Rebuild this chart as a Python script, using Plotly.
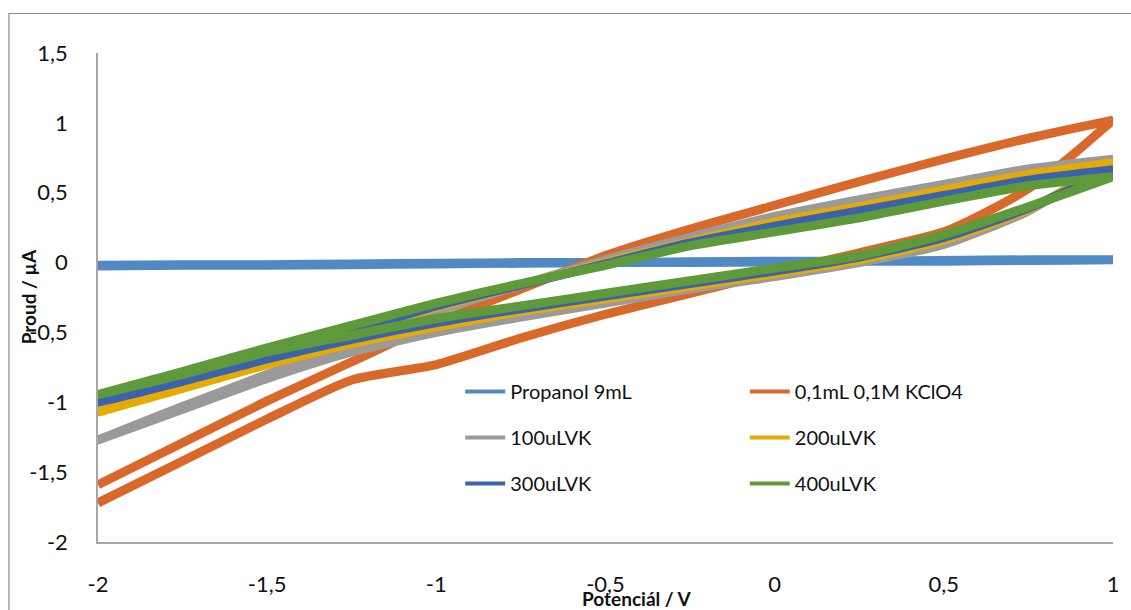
import plotly.graph_objects as go

# Potential nodes (V) shared by the sweeps
POTENTIAL = [-2.0, -1.75, -1.5, -1.25, -1.0, -0.75, -0.5, -0.25, 0.0, 0.25, 0.5, 0.75, 1.0]
POTENTIAL_KCLO4_FWD = [-2.0, -1.75, -1.5, -1.25, -1.0, -0.75, -0.5, -0.25, 0.0, 0.25, 0.5, 0.625, 0.75, 0.875, 1.0]

SERIES_NAMES = ["Propanol 9mL", "0,1mL 0,1M KClO4", "100uLVK", "200uLVK", "300uLVK", "400uLVK"]
SERIES_COLORS = ["#5089c4", "#d9692b", "#9a9a9a", "#e6ab02", "#3b63ad", "#5e9a3a"]

# Current (uA): forward sweep (-2 -> 1 V) and reverse sweep (1 -> -2 V)
PROPANOL_FWD = [-0.025, -0.02, -0.02, -0.015, -0.01, -0.005, 0.0, 0.0, 0.005, 0.01, 0.01, 0.015, 0.02]
PROPANOL_REV = [-0.02, -0.015, -0.015, -0.01, -0.005, 0.0, 0.0, 0.005, 0.01, 0.01, 0.015, 0.02, 0.02]

KCLO4_FWD = [-1.72, -1.42, -1.12, -0.84, -0.73, -0.54, -0.37, -0.22, -0.07, 0.07, 0.22, 0.36, 0.53, 0.76, 1.02]
KCLO4_REV = [-1.59, -1.29, -0.99, -0.71, -0.43, -0.19, 0.05, 0.24, 0.41, 0.58, 0.74, 0.89, 1.02]

VK100_FWD = [-1.27, -1.05, -0.83, -0.64, -0.50, -0.39, -0.29, -0.19, -0.10, 0.00, 0.13, 0.37, 0.74]
VK100_REV = [-1.27, -1.03, -0.80, -0.57, -0.35, -0.16, 0.02, 0.18, 0.33, 0.45, 0.56, 0.67, 0.74]

VK200_FWD = [-1.07, -0.90, -0.73, -0.58, -0.46, -0.35, -0.26, -0.17, -0.08, 0.02, 0.16, 0.38, 0.715]
VK200_REV = [-1.07, -0.88, -0.70, -0.51, -0.32, -0.16, 0.00, 0.15, 0.29, 0.40, 0.52, 0.63, 0.715]

VK300_FWD = [-1.00, -0.85, -0.69, -0.55, -0.43, -0.33, -0.24, -0.15, -0.06, 0.04, 0.18, 0.39, 0.665]
VK300_REV = [-1.00, -0.83, -0.66, -0.49, -0.31, -0.16, -0.01, 0.14, 0.26, 0.37, 0.48, 0.59, 0.665]

VK400_FWD = [-0.945, -0.80, -0.64, -0.52, -0.40, -0.31, -0.22, -0.13, -0.04, 0.05, 0.20, 0.40, 0.615]
VK400_REV = [-0.945, -0.78, -0.61, -0.45, -0.29, -0.15, -0.02, 0.12, 0.22, 0.32, 0.44, 0.55, 0.615]

X_TICKS = [-2, -1.5, -1, -0.5, 0, 0.5, 1]
X_TICK_LABELS = ["-2", "-1,5", "-1", "-0,5", "0", "0,5", "1"]
Y_TICKS = [-2, -1.5, -1, -0.5, 0, 0.5, 1, 1.5]
Y_TICK_LABELS = ["-2", "-1,5", "-1", "-0,5", "0", "0,5", "1", "1,5"]

SWEEPS = [
    (POTENTIAL, PROPANOL_FWD, PROPANOL_REV),
    (POTENTIAL_KCLO4_FWD, KCLO4_FWD, KCLO4_REV),
    (POTENTIAL, VK100_FWD, VK100_REV),
    (POTENTIAL, VK200_FWD, VK200_REV),
    (POTENTIAL, VK300_FWD, VK300_REV),
    (POTENTIAL, VK400_FWD, VK400_REV),
]

W, H = 1131, 610
ML, MR, MT, MB = 98, 13, 53, 68
PW, PH = W - ML - MR, H - MT - MB

FONT = "Lato"
TXT = "#111111"

fig = go.Figure()

# one closed voltammogram per sample: forward sweep then reverse sweep
for (fx, fy, ry), name, color in zip(SWEEPS, SERIES_NAMES, SERIES_COLORS):
    xs = list(fx) + list(reversed(POTENTIAL))
    ys = list(fy) + list(reversed(ry))
    fig.add_trace(go.Scatter(
        x=xs, y=ys, mode="lines", name=name, showlegend=False,
        line=dict(color=color, width=9, shape="spline", smoothing=0.6),
        hoverinfo="skip",
    ))

# legend entries: left column and right column
for i, (name, color) in enumerate(zip(SERIES_NAMES, SERIES_COLORS)):
    fig.add_trace(go.Scatter(
        x=[None], y=[None], mode="lines", name=name,
        line=dict(color=color, width=4),
        legend="legend" if i % 2 == 0 else "legend2",
        legendgroup=f"g{i}",
    ))

def px_to_paper_x(px):
    return (px - ML) / PW

def px_to_paper_y(py):
    return (H - MB - py) / PH

legend_common = dict(
    font=dict(family=FONT, size=20, color=TXT),
    bgcolor="rgba(0,0,0,0)", borderwidth=0,
    itemwidth=40, tracegroupgap=17,
    xanchor="left", yanchor="top", orientation="v",
)

tick_font = dict(family=FONT, size=22, color=TXT)

fig.update_layout(
    width=W, height=H,
    margin=dict(l=ML, r=MR, t=MT, b=MB),
    paper_bgcolor="white", plot_bgcolor="white",
    font=dict(family=FONT, size=20, color=TXT),
    legend=dict(x=px_to_paper_x(462), y=px_to_paper_y(372), **legend_common),
    legend2=dict(x=px_to_paper_x(748), y=px_to_paper_y(372), **legend_common),
    xaxis=dict(
        range=[-2, 1], tickvals=X_TICKS, ticktext=X_TICK_LABELS,
        showgrid=False, zeroline=False, showline=True,
        linecolor="#a6a6a6", linewidth=1.5, ticks="",
        ticklabelstandoff=22, tickfont=tick_font,
    ),
    yaxis=dict(
        range=[-2, 1.5], tickvals=Y_TICKS, ticktext=Y_TICK_LABELS,
        showgrid=False, zeroline=False, showline=True,
        linecolor="#a6a6a6", linewidth=1.5, ticks="",
        ticklabelstandoff=24, tickfont=tick_font,
    ),
    annotations=[
        dict(text="<b>Potenciál / V</b>", xref="paper", yref="paper",
             x=px_to_paper_x(640), y=px_to_paper_y(598), xanchor="center", yanchor="middle",
             showarrow=False, font=dict(family=FONT, size=19, color=TXT)),
        dict(text="<b>Proud / µA</b>", xref="paper", yref="paper",
             x=px_to_paper_x(28), y=px_to_paper_y(297), xanchor="center", yanchor="middle",
             textangle=-90, showarrow=False, font=dict(family=FONT, size=19, color=TXT)),
    ],
    shapes=[
        # chart-area frame
        dict(type="rect", xref="paper", yref="paper", layer="below",
             x0=px_to_paper_x(8.5), x1=px_to_paper_x(W + 20),
             y0=px_to_paper_y(H + 20), y1=px_to_paper_y(13.5),
             line=dict(color="#8c8c8c", width=1.2), fillcolor="rgba(0,0,0,0)"),
    ],
)

fig.write_html("out.html")
